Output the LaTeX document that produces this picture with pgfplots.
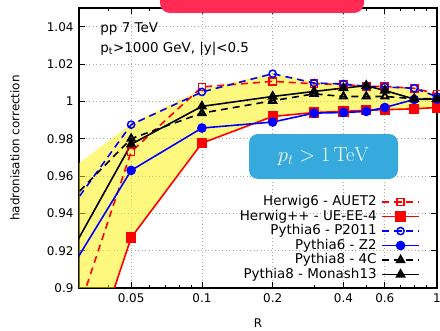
\documentclass[border=0pt]{standalone}
\usepackage[no-math]{fontspec}
\setmainfont{DejaVu Sans}
\usepackage{pgfplots}
\pgfplotsset{compat=1.18}
\usepackage{pgfplotstable}

\definecolor{boxred}{RGB}{255,43,85}
\definecolor{boxblue}{RGB}{54,170,220}

% hadronisation corrections vs jet radius R
\pgfplotstableread{
R     auet2  uee4   p2011  z2     c4     monash
0.02  0.822  0.776  0.918  0.881  0.929  0.887
0.05  0.973  0.927  0.9875 0.963  0.980  0.977
0.1   1.0077 0.9776 1.005  0.9857 0.9937 0.9973
0.2   1.0107 0.9919 1.0148 0.9889 1.0003 1.0026
0.3   1.0094 0.9940 1.0098 0.9937 1.0040 1.0053
0.4   1.0090 0.9946 1.0093 0.9940 1.0026 1.0071
0.5   1.0080 0.9952 1.0080 0.9946 1.0026 1.0084
0.6   1.0080 0.9955 1.0077 0.9967 1.0026 1.0058
0.8   1.0070 0.9960 1.0070 1.0010 1.0014 1.0012
1.0   1.0040 0.9967 1.0025 1.0012 1.0014 1.0012
}\hadcorr

% outline of the spread band: upper edge, then lower edge backwards
\pgfplotstableread{
R     v
0.02  0.950
0.05  0.988
0.1   1.0065
0.2   1.0150
0.3   1.0105
0.4   1.0093
0.5   1.0086
0.6   1.0080
0.8   1.0070
1.0   1.0040
1.0   0.9967
0.8   0.9960
0.6   0.9955
0.5   0.9952
0.4   0.9946
0.3   0.9940
0.2   0.9919
0.1   0.9776
0.05  0.927
0.02  0.776
}\bandtab

\begin{document}
\begin{tikzpicture}[trim left=-79bp, trim right=361bp]
\path (-79bp,-41bp) (361bp,288bp);
\begin{axis}[
  at={(0,0)}, anchor=south west,
  width=358bp, height=280bp, scale only axis,
  xmode=log, xmin=0.03, xmax=1, ymin=0.9, ymax=1.05,
  xtick={0.05,0.1,0.2,0.4,0.6,1},
  xticklabels={0.05,0.1,0.2,0.4,0.6,1},
  minor xtick={0.03,0.04,0.06,0.07,0.08,0.09,0.3,0.5,0.7,0.8,0.9},
  ytick={0.9,0.92,0.94,0.96,0.98,1,1.02,1.04},
  yticklabels={0.9,0.92,0.94,0.96,0.98,1,1.02,1.04},
  tick align=inside,
  major tick length=6bp, minor tick length=3bp,
  every tick/.style={black, line width=0.8bp},
  axis line style={line width=1.5bp},
  grid=major,
  major grid style={gray!70, line width=0.7bp, dash pattern=on 1bp off 2.5bp},
  tick label style={font=\fontsize{12}{14}\selectfont},
  yticklabel style={xshift=-2bp},
  xticklabel style={yshift=-2bp},
  legend plot pos=right,
  legend cell align=right,
  legend style={at={(1,0)}, anchor=south east, xshift=-14bp, yshift=4bp,
    draw=none, fill=none, font=\fontsize{13.5}{15}\selectfont,
    nodes={inner sep=0.75bp, text height=10bp, text depth=3bp},
    row sep=0bp, /tikz/every odd column/.append style={column sep=4bp}},
  legend image code/.code={
    \draw[mark repeat=2,mark phase=2]
      plot coordinates {(0cm,0cm) (0.65cm,0cm) (1.3cm,0cm)};},
  every axis plot/.append style={line width=1.6bp},
]
% spread of the tunes
\addplot[draw=none, fill=yellow, fill opacity=0.5, forget plot]
  table[x=R, y=v] {\bandtab} -- cycle;

\addplot[red, dash pattern=on 7bp off 5bp, mark=square, mark size=3.6bp,
  mark options={solid, line width=1.5bp}] table[x=R, y=auet2] {\hadcorr};
\addlegendentry{Herwig6 - AUET2}
\addplot[red, mark=square*, mark size=4.3bp, mark options={solid}]
  table[x=R, y=uee4] {\hadcorr};
\addlegendentry{Herwig++ - UE-EE-4}
\addplot[blue, dash pattern=on 7bp off 5bp, mark=o, mark size=3.6bp,
  mark options={solid, line width=1.5bp}] table[x=R, y=p2011] {\hadcorr};
\addlegendentry{Pythia6 - P2011}
\addplot[blue, mark=*, mark size=4bp, mark options={solid}]
  table[x=R, y=z2] {\hadcorr};
\addlegendentry{Pythia6 - Z2}
\addplot[black, dash pattern=on 7bp off 5bp, mark=triangle, mark size=4bp,
  mark options={solid, line width=2bp}] table[x=R, y=c4] {\hadcorr};
\addlegendentry{Pythia8 - 4C}
\addplot[black, mark=triangle*, mark size=4.6bp, mark options={solid}]
  table[x=R, y=monash] {\hadcorr};
\addlegendentry{Pythia8 - Monash13}

\node[anchor=base west, font=\fontsize{13.5}{15}\selectfont]
  at (rel axis cs:0.05,0.913) {pp 7 TeV};
\node[anchor=base west, font=\fontsize{13.5}{15}\selectfont]
  at (rel axis cs:0.05,0.842) {p\textsubscript{t}>1000 GeV, |y|<0.5};
\end{axis}
\node[rotate=90, font=\fontsize{12}{14}\selectfont] at (-64bp,140bp) {hadronisation correction};
\node[font=\fontsize{12}{14}\selectfont] at (179bp,-35bp) {R};
% highlight boxes
\fill[boxred] (81bp,288bp) -- (81bp,285bp) arc[start angle=180, end angle=270, radius=10bp]
  -- (275bp,275bp) arc[start angle=270, end angle=360, radius=10bp] -- (285bp,288bp) -- cycle;
\fill[boxblue, rounded corners=9bp] (170bp,109bp) rectangle (319bp,154bp);
\node[text=white, font=\huge] at (244.5bp,131.5bp) {$p_t > 1\,\mathrm{TeV}$};
\end{tikzpicture}
\end{document}
